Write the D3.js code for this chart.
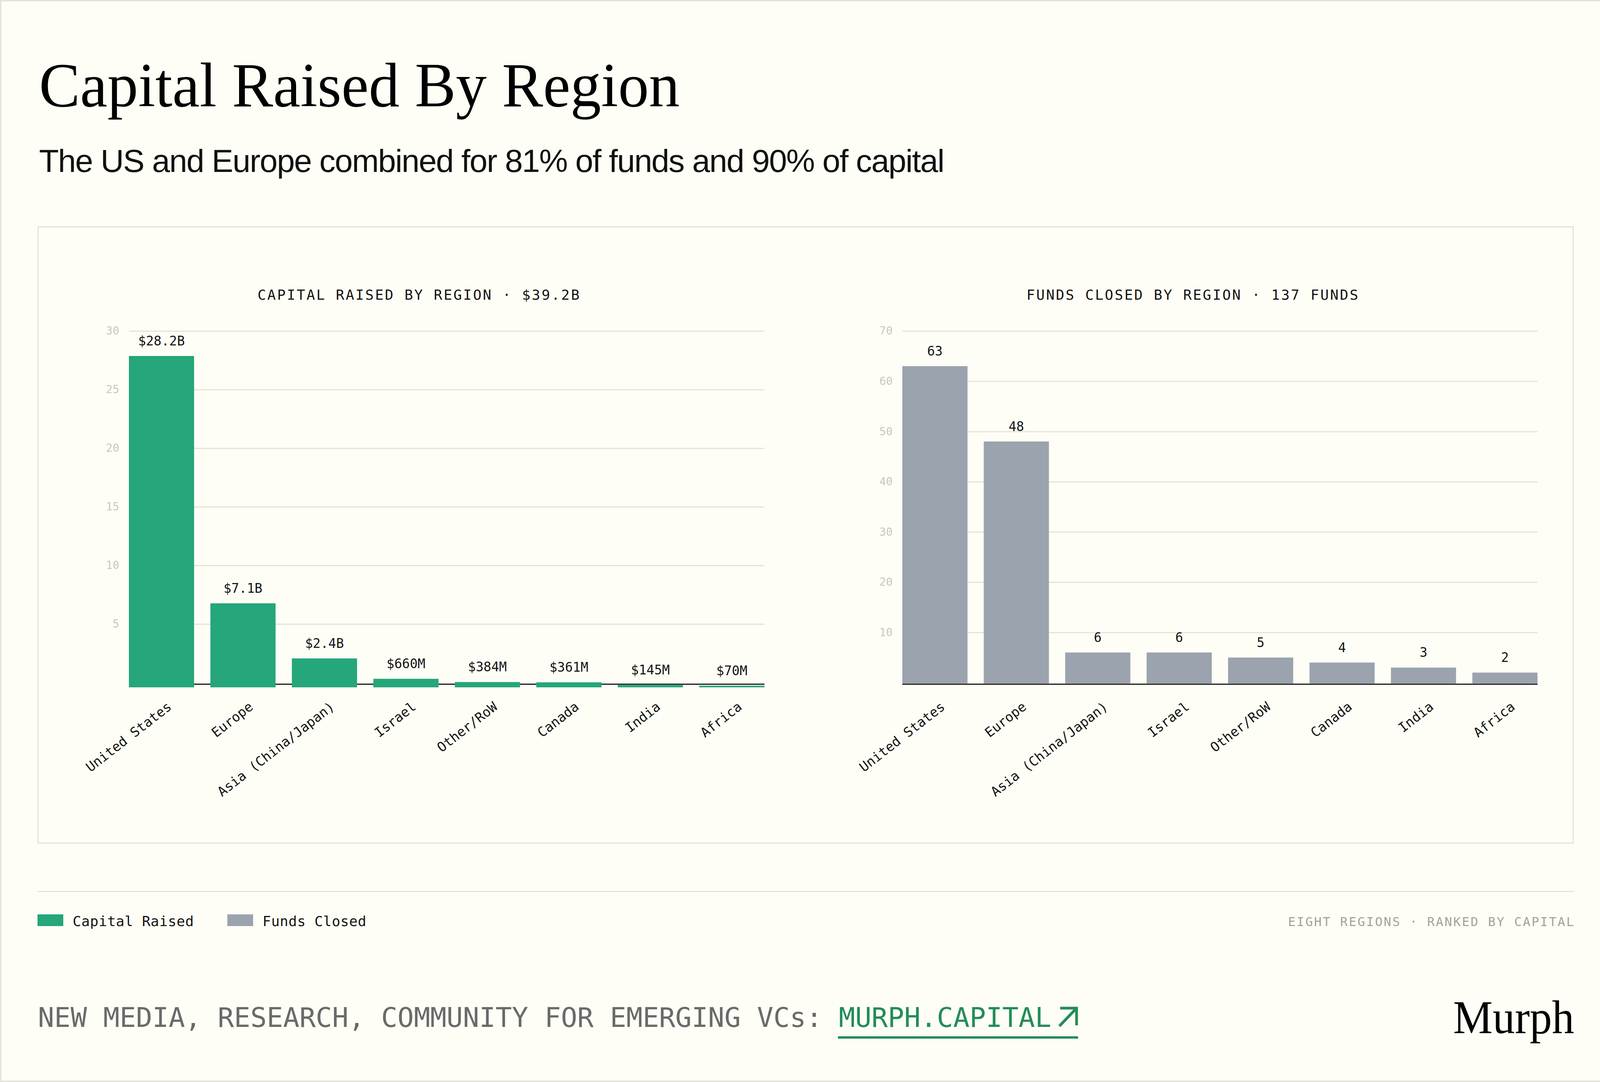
<!doctype html>
<html lang="en">
<head>
	<meta charset="UTF-8">
	<title>Capital Raised By Region</title>
	<style>
		html, body {
			margin: 0;
			padding: 0;
			background: #fefef6;
		}

		svg {
			display: block;
		}

		.mono {
			font-family: "DejaVu Sans Mono", "Liberation Mono", monospace;
		}

		.bar__label {
			fill: #141414;
			text-anchor: middle;
			font-size: 33px;
		}

	</style>
</head>
<body>

	<script src="https://cdn.jsdelivr.net/npm/d3@7/dist/d3.min.js"></script>
	<script>
		// data
		var regions = ['United States', 'Europe', 'Asia (China/Japan)', 'Israel', 'Other/RoW', 'Canada', 'India', 'Africa'];
		var capitalRaisedB = [28.2, 7.1, 2.4, 0.66, 0.384, 0.361, 0.145, 0.07];
		var fundsClosed = [63, 48, 6, 6, 5, 4, 3, 2];
		var capitalTicks = [5, 10, 15, 20, 25, 30];
		var fundsTicks = [10, 20, 30, 40, 50, 60, 70];

		var w = 4125,
			h = 2769;

		var cream = '#fefef6',
			rule = '#e4e3d9',
			green = '#25a67b',
			slate = '#9ba3ae',
			ink = '#141414';

		var svg = d3.select('body')
			.append('svg')
			.attr('width', w)
			.attr('height', h);

		// background + outer frame
		svg.append('rect')
			.attr('x', 1.5).attr('y', 1.5)
			.attr('width', w - 3).attr('height', h - 3)
			.attr('fill', cream)
			.attr('stroke', rule)
			.attr('stroke-width', 4);

		/**
		* format capital value like the reference labels
		*/
		var formatCapital = function(v) {
			if (v >= 1) {
				return '$' + v.toFixed(1) + 'B';
			}
			return '$' + Math.round(v * 1000) + 'M';
		};

		// ===== header
		svg.append('text')
			.attr('x', 100)
			.attr('y', 272)
			.attr('textLength', 1640)
			.attr('lengthAdjust', 'spacingAndGlyphs')
			.style('font-family', '"Liberation Serif", "DejaVu Serif", serif')
			.style('font-size', '162px')
			.attr('fill', '#000')
			.text('Capital Raised By Region');

		svg.append('text')
			.attr('x', 100)
			.attr('y', 440)
			.attr('textLength', 2316)
			.attr('lengthAdjust', 'spacingAndGlyphs')
			.style('font-family', '"Liberation Sans", Arial, sans-serif')
			.style('font-size', '82px')
			.style('letter-spacing', '-2px')
			.attr('fill', '#111')
			.text('The US and Europe combined for 81% of funds and 90% of capital');

		// panel
		svg.append('rect')
			.attr('x', 97.5).attr('y', 580.5)
			.attr('width', 3930).attr('height', 1577)
			.attr('fill', 'none')
			.attr('stroke', rule)
			.attr('stroke-width', 3);


		/**
		* draw one bar chart
		* @param {object} cfg
		*/
		var drawChart = function(cfg) {
			var g = svg.append('g');

			var x = d3.scaleBand()
				.domain(regions)
				.range([cfg.left, cfg.right])
				.paddingInner(0.2)
				.paddingOuter(0);

			var y = d3.scaleLinear()
				.domain([0, cfg.max])
				.range([1747, 847]);

			// title
			g.append('text')
				.attr('class', 'mono')
				.attr('x', cfg.titleX)
				.attr('y', 767)
				.attr('text-anchor', 'middle')
				.style('font-size', '36px')
				.style('letter-spacing', '3.4px')
				.attr('fill', ink)
				.text(cfg.title);

			// grid + y labels
			var yAxis = g.append('g')
				.attr('transform', 'translate(' + cfg.left + ',0)')
				.call(d3.axisLeft(y)
					.tickValues(cfg.ticks)
					.tickSize(-(cfg.right - cfg.left))
					.tickPadding(25)
					.tickFormat(d3.format('d')));
			yAxis.select('.domain').remove();
			yAxis.selectAll('line')
				.attr('stroke', rule)
				.attr('stroke-width', 3);
			yAxis.selectAll('text')
				.attr('class', 'mono')
				.attr('fill', '#c9c7b9')
				.style('font-size', '28px');

			// bars
			var shift = cfg.barShift;
			g.selectAll('rect.bar')
				.data(cfg.values)
				.enter()
				.append('rect')
				.attr('class', 'bar')
				.attr('x', function(d, i) {
					return x(regions[i]);
				})
				.attr('y', function(d) {
					return y(d) + shift;
				})
				.attr('width', x.bandwidth())
				.attr('height', function(d) {
					return y(0) - y(d) + 2;
				})
				.attr('fill', cfg.color);

			// baseline
			g.append('line')
				.attr('x1', cfg.left).attr('x2', cfg.right)
				.attr('y1', y(0) + 4).attr('y2', y(0) + 4)
				.attr('stroke', ink)
				.attr('stroke-width', 3);

			// redraw bars over baseline where they reach below it
			if (shift > 0) {
				g.selectAll('rect.bar').raise();
			}

			// value labels
			g.selectAll('text.bar__label')
				.data(cfg.values)
				.enter()
				.append('text')
				.attr('class', 'bar__label mono')
				.attr('x', function(d, i) {
					return x(regions[i]) + x.bandwidth() / 2;
				})
				.attr('y', function(d) {
					return y(d) + shift - 27;
				})
				.text(cfg.format);

			// x labels
			var xAxis = g.append('g')
				.attr('transform', 'translate(0,' + y(0) + ')')
				.call(d3.axisBottom(x).tickSize(0));
			xAxis.select('.domain').remove();
			xAxis.selectAll('text')
				.attr('class', 'mono')
				.attr('y', null)
				.attr('dy', null)
				.attr('text-anchor', 'end')
				.attr('transform', 'translate(28,66) rotate(-38)')
				.attr('fill', ink)
				.style('font-size', '34px');
		};

		drawChart({
			left: 330,
			right: 1957,
			titleX: 1073,
			title: 'CAPITAL RAISED BY REGION \u00b7 $39.2B',
			max: 30,
			ticks: capitalTicks,
			values: capitalRaisedB,
			color: green,
			barShift: 10,
			format: function(d) { return formatCapital(d); }
		});

		drawChart({
			left: 2310,
			right: 3936,
			titleX: 3054,
			title: 'FUNDS CLOSED BY REGION \u00b7 137 FUNDS',
			max: 70,
			ticks: fundsTicks,
			values: fundsClosed,
			color: slate,
			barShift: 0,
			format: function(d) { return d; }
		});

		// ===== legend row
		svg.append('line')
			.attr('x1', 97).attr('x2', 4030)
			.attr('y1', 2281.5).attr('y2', 2281.5)
			.attr('stroke', rule)
			.attr('stroke-width', 3);

		var legendItems = [
			{label: 'Capital Raised', color: green, x: 96},
			{label: 'Funds Closed', color: slate, x: 582}
		];

		var legend = svg.selectAll('g.legend')
			.data(legendItems)
			.enter()
			.append('g')
			.attr('class', 'legend')
			.attr('transform', function(d) {
				return 'translate(' + d.x + ',2340)';
			});
		legend.append('rect')
			.attr('width', 66)
			.attr('height', 30)
			.attr('fill', function(d) { return d.color; });
		legend.append('text')
			.attr('class', 'mono')
			.attr('x', 90)
			.attr('y', 30)
			.attr('fill', ink)
			.style('font-size', '36px')
			.style('letter-spacing', '0.5px')
			.text(function(d) { return d.label; });

		svg.append('text')
			.attr('class', 'mono')
			.attr('x', 4032)
			.attr('y', 2370)
			.attr('text-anchor', 'end')
			.attr('fill', '#a3a29a')
			.style('font-size', '32px')
			.style('letter-spacing', '3px')
			.text('EIGHT REGIONS \u00b7 RANKED BY CAPITAL');

		// ===== footer
		var foot = svg.append('text')
			.attr('class', 'mono')
			.attr('x', 97)
			.attr('y', 2628)
			.style('font-size', '69.5px');
		foot.append('tspan')
			.attr('fill', '#6a6a6a')
			.text('NEW MEDIA, RESEARCH, COMMUNITY FOR EMERGING VCs: ');
		foot.append('tspan')
			.attr('fill', '#238c58')
			.text('MURPH.CAPITAL');

		// link arrow + underline
		svg.append('path')
			.attr('d', 'M2714,2580 H2756 V2624 M2756,2580 L2712,2626')
			.attr('fill', 'none')
			.attr('stroke', '#238c58')
			.attr('stroke-width', 7);
		svg.append('rect')
			.attr('x', 2145).attr('y', 2652)
			.attr('width', 615).attr('height', 6)
			.attr('fill', '#238c58');

		svg.append('text')
			.attr('x', 4030)
			.attr('y', 2644)
			.attr('text-anchor', 'end')
			.attr('textLength', 310)
			.attr('lengthAdjust', 'spacingAndGlyphs')
			.style('font-family', '"Liberation Serif", "DejaVu Serif", serif')
			.style('font-size', '120px')
			.attr('fill', '#000')
			.text('Murph');

	</script>
</body>
</html>
